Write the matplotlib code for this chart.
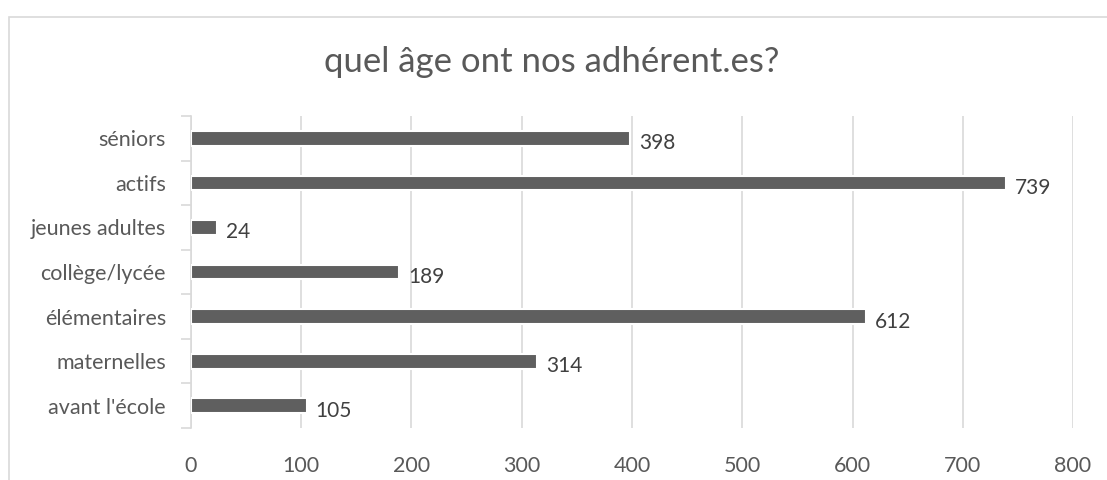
import matplotlib.pyplot as plt
from matplotlib.patches import Rectangle

categories = ["avant l'école", "maternelles", "élémentaires", "collège/lycée",
              "jeunes adultes", "actifs", "séniors"]
values = [105, 314, 612, 189, 24, 739, 398]
x_ticks = [0, 100, 200, 300, 400, 500, 600, 700, 800]

plt.rcParams['font.family'] = ['Lato', 'DejaVu Sans']
txt = '#595959'

fig = plt.figure(figsize=(11.07, 4.80), dpi=100)
ax = fig.add_axes([0.1725, 0.1083, 0.7968, 0.65])

# cadre du graphique (gris clair)
fig.patches.append(Rectangle((0.0081, -0.1), 1.2, 1.0646, transform=fig.transFigure,
                             fill=False, edgecolor='#d9d9d9', linewidth=1.2))

y = list(range(len(categories)))
ax.barh(y, values, height=0.33, color='#5f5f5f', edgecolor='white', linewidth=1.5, zorder=3)

for yi, v in zip(y, values):
    ax.annotate(str(v), xy=(v, yi), xytext=(9, -5), textcoords='offset pixels',
                ha='left', va='center', fontsize=15, color='#404040')

ax.set_xlim(0, 800)
ax.set_ylim(-0.5, len(categories) - 0.5)
ax.set_xticks(x_ticks)
ax.set_xticklabels([str(t) for t in x_ticks])
ax.set_yticks(y)
ax.set_yticklabels(categories)
ax.set_yticks([i - 0.5 for i in range(len(categories) + 1)], minor=True)

ax.tick_params(axis='x', length=0, pad=20, labelsize=15.5, labelcolor=txt)
ax.tick_params(axis='y', which='major', length=0, pad=18, labelsize=15.5, labelcolor=txt)
ax.tick_params(axis='y', which='minor', length=7, color='#d9d9d9', width=1.2)

ax.grid(axis='x', color='#d9d9d9', linewidth=1.2, zorder=0)
ax.set_axisbelow(True)
for s in ['top', 'right', 'bottom']:
    ax.spines[s].set_visible(False)
ax.spines['left'].set_color('#d9d9d9')
ax.spines['left'].set_linewidth(1.2)

fig.text(0.4986, 0.87, "quel âge ont nos adhérent.es?", ha='center', va='center',
         fontsize=25, color=txt)

plt.savefig("out.png", dpi=100)
